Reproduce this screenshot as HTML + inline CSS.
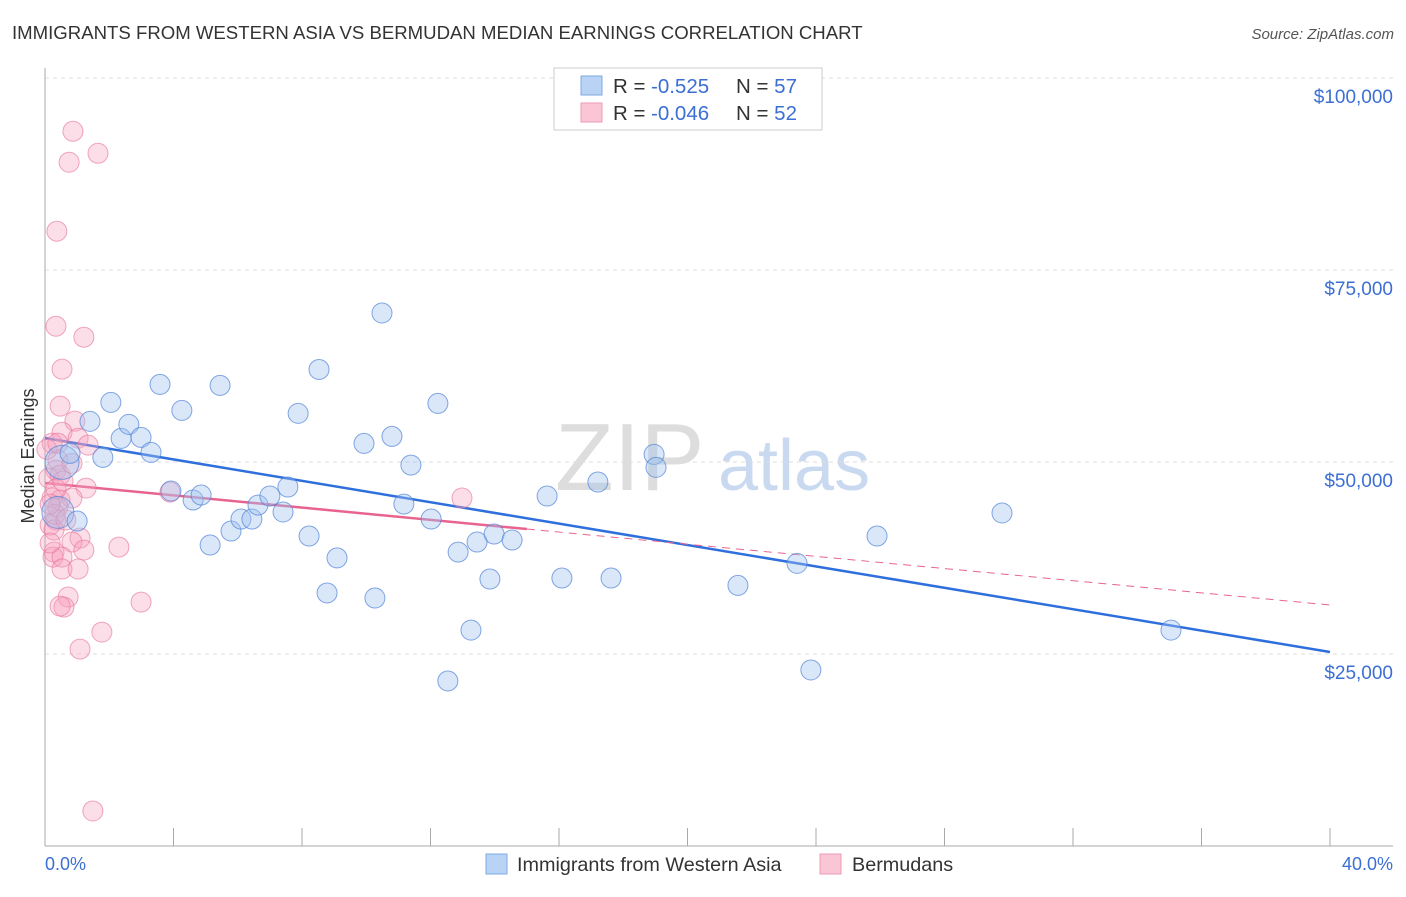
<!DOCTYPE html>
<html><head><meta charset="utf-8"><style>
body{margin:0;background:#fff;font-family:"Liberation Sans",sans-serif;}
svg text{font-family:"Liberation Sans",sans-serif;}
</style></head><body>
<svg id="chart" width="1406" height="892" xmlns="http://www.w3.org/2000/svg">
<text x="12" y="39" font-size="18.6" fill="#333">IMMIGRANTS FROM WESTERN ASIA VS BERMUDAN MEDIAN EARNINGS CORRELATION CHART</text>
<text x="1394" y="39" font-size="15" fill="#555" text-anchor="end" font-style="italic">Source: ZipAtlas.com</text>
<text x="555" y="490" font-size="96" fill="#ddd" font-family="Liberation Serif">ZIP</text>
<text x="718" y="490" font-size="72" fill="#c9daf0">atlas</text>
<g id="grid"></g><g id="axes"></g><g id="trends"></g><g id="pts"></g>
<text transform="translate(34,456) rotate(-90)" font-size="18" fill="#333" text-anchor="middle">Median Earnings</text>
<g>
<rect x="554" y="68" width="268" height="62" fill="#fff" stroke="#ccc"/>
<rect x="581" y="76" width="21" height="19" fill="#b9d3f5" stroke="#7fa8e3"/>
<rect x="581" y="103" width="21" height="19" fill="#fac6d6" stroke="#ef9ab5"/>
<text x="613" y="93" font-size="20.5" fill="#333">R = <tspan x="651" fill="#3b6fd4">-0.525</tspan><tspan x="736">N = </tspan><tspan fill="#3b6fd4">57</tspan></text>
<text x="613" y="120" font-size="20.5" fill="#333">R = <tspan x="651" fill="#3b6fd4">-0.046</tspan><tspan x="736">N = </tspan><tspan fill="#3b6fd4">52</tspan></text>
</g>
<g>
<rect x="486" y="854" width="21" height="20" fill="#b9d3f5" stroke="#7fa8e3"/>
<text x="517" y="871" font-size="19.8" fill="#333">Immigrants from Western Asia</text>
<rect x="820" y="854" width="21" height="20" fill="#fac6d6" stroke="#ef9ab5"/>
<text x="852" y="871" font-size="19.8" fill="#333">Bermudans</text>
</g>
<text x="45" y="870" font-size="18" fill="#3b6fd4">0.0%</text>
<text x="1393" y="870" font-size="18" fill="#3b6fd4" text-anchor="end">40.0%</text>
</svg>
<script>
const yTicks=[25000,50000,75000,100000];
const yTickLabels=["$25,000","$50,000","$75,000","$100,000"];
const xTicks=[0,4,8,12,16,20,24,28,32,36,40];
const blueX=[0.53,0.40,1.40,0.78,1.80,2.05,2.37,2.61,2.99,3.30,3.58,3.92,4.26,4.61,4.86,5.14,5.45,5.79,6.10,6.44,6.63,7.00,7.41,7.56,7.88,8.22,8.53,8.78,9.09,9.93,10.27,10.49,10.80,11.17,11.39,12.02,12.23,12.54,12.86,13.26,13.45,13.85,13.98,14.54,15.63,16.09,17.21,17.62,18.96,19.02,21.57,23.41,23.84,25.90,29.79,35.05,1.0];
const blueY=[49950,43440,55290,51120,50600,57760,53070,54900,53200,51250,60100,46220,56720,45050,45700,39190,59970,41010,42570,42570,44390,45570,43490,46740,56330,40360,62050,32950,37510,52420,32290,69400,53330,44520,49600,42570,57630,21490,38270,28110,39580,34760,40620,39840,45570,34890,47390,34890,50990,49300,33930,36800,22920,40360,43360,28110,42310];
const blueR=[17,16,10,10,10,10,10,10,10,10,10,10,10,10,10,10,10,10,10,10,10,10,10,10,10,10,10,10,10,10,10,10,10,10,10,10,10,10,10,10,10,10,10,10,10,10,10,10,10,10,10,10,10,10,10,10,10];
const pinkX=[0.87,1.65,0.75,0.37,0.34,1.21,0.53,0.47,0.93,0.53,1.03,1.34,0.22,0.40,0.34,0.12,0.47,1.28,0.22,0.47,0.84,3.89,12.98,0.40,0.34,0.16,0.28,1.09,0.84,1.21,2.30,0.28,0.25,0.53,0.53,1.03,0.72,0.59,0.47,2.99,1.77,1.09,1.49,0.06,0.31,0.16,0.65,0.84,0.34,0.16,0.56,0.40];
const pinkY=[93060,90200,89030,80050,67680,66250,62090,57270,55320,53880,53100,52190,52450,50240,48940,47900,48290,46600,45310,45050,45310,46090,45310,44130,42440,41790,41140,40100,39580,38530,38920,38270,37620,37620,36060,36060,32420,31110,31240,31760,27850,25640,4560,51640,43180,39450,42440,49820,46480,44520,47510,52450];
const blueTrend=[[0,53120],[40,25260]];
const pinkTrendSolid=[[0,47260],[15,41270]];
const pinkTrendDash=[[15,41270],[40,31380]];
const X0=45,X1=1330,Y0=846,PX=(X1-X0)/40,PY=192/25000;
const sx=v=>X0+v*PX, sy=v=>Y0-v*PY;
const NS="http://www.w3.org/2000/svg";
function mk(t,a,p){const e=document.createElementNS(NS,t);for(const k in a)e.setAttribute(k,a[k]);p.appendChild(e);return e;}
const grid=document.getElementById('grid'),axes=document.getElementById('axes'),tr=document.getElementById('trends'),pts=document.getElementById('pts');
yTicks.forEach((v,i)=>{
 const l=mk('line',{x1:X0,x2:1393,y1:sy(v),y2:sy(v),stroke:'#ddd','stroke-dasharray':'4 4'},grid);
 
 
 const t=mk('text',{x:1393,y:sy(v)+25,'font-size':19,fill:'#3b6fd4','text-anchor':'end'},grid);t.textContent=yTickLabels[i];
 
 
});
const ya=mk('line',{x1:X0,x2:X0,y1:68,y2:Y0,stroke:'#aaa'},axes);


const xa=mk('line',{x1:X0,x2:1393,y1:Y0,y2:Y0,stroke:'#aaa'},axes);


xTicks.forEach(v=>{const l=mk('line',{x1:sx(v),x2:sx(v),y1:Y0,y2:828,stroke:'#aaa'},axes);
 
 });
function line(d,c,w,dash,name){const a={x1:sx(d[0][0]),y1:sy(d[0][1]),x2:sx(d[1][0]),y2:sy(d[1][1]),stroke:c,'stroke-width':w};if(dash)a['stroke-dasharray']=dash;const l=mk('line',a,tr);
 
 }
pinkX.forEach((x,i)=>{const c=mk('circle',{cx:sx(x),cy:sy(pinkY[i]),r:10,fill:'rgba(246,160,188,0.35)',stroke:'rgba(232,120,158,0.65)','stroke-width':1},pts);
 
 });
blueX.forEach((x,i)=>{const c=mk('circle',{cx:sx(x),cy:sy(blueY[i]),r:blueR[i],fill:'rgba(160,195,240,0.4)',stroke:'rgba(80,130,215,0.7)','stroke-width':1},pts);
 
 });
line(blueTrend,'#2f6fdc',2.5,null,'western-asia-trendline');
line(pinkTrendSolid,'#e8648f',2.5,null,'bermudans-trendline');
line(pinkTrendDash,'#e8648f',1,'8 6','bermudans-trendline-extension');
</script>
</body></html>
